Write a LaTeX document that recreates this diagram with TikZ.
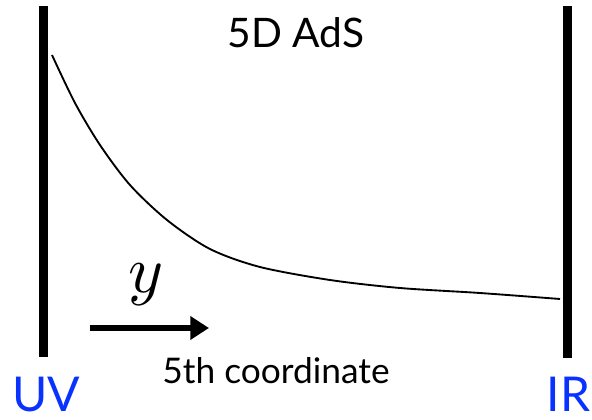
\documentclass[tikz,border=0pt]{standalone}
\usepackage{graphicx}
\usepackage{fontspec}
\setmainfont{Lato}
\usetikzlibrary{arrows.meta}
\definecolor{labelblue}{RGB}{10,50,255}
\tikzset{
  wall/.style={line width=6.75pt},
  profile/.style={line width=1.4pt},
  dirarrow/.style={line width=4.5pt,-{Triangle[length=14pt,width=17pt]}},
  endlabel/.style={text=labelblue,font=\fontsize{36}{40}\selectfont,inner sep=0pt},
}
\begin{document}
\begin{tikzpicture}[x=0.75pt,y=-0.75pt]
\useasboundingbox (0,0) rectangle (592,420);
\coordinate (uvtop) at (43.5,6);
\coordinate (uvbot) at (43.5,357);
\coordinate (irtop) at (567.5,6);
\coordinate (irbot) at (567.5,358);
\draw[wall] (uvtop) -- (uvbot);
\draw[wall] (irtop) -- (irbot);
\draw[profile] plot[smooth] coordinates {(52,55) (75,103) (100,145) (130,185) (167,220) (210,249) (260,267) (330,280) (400,288) (480,293) (560,299)};
\node[font=\fontsize{30.5}{34}\selectfont,inner sep=0pt] (title) at (296,32.5) {5D AdS};
\node[inner sep=0pt] (ylab) at (146,285) {\scalebox{5}{$y$}};
\coordinate (arrs) at (90,328);
\coordinate (arre) at (209,328);
\draw[dirarrow] (arrs) -- (arre);
\node[font=\fontsize{26.5}{30}\selectfont,inner sep=0pt,anchor=base] (coord) at (276,383) {5th coordinate};
\node[endlabel,anchor=base] (uv) at (46.5,411.5) {UV};
\node[endlabel,anchor=base] (ir) at (568.5,411.5) {IR};
\end{tikzpicture}
\end{document}
